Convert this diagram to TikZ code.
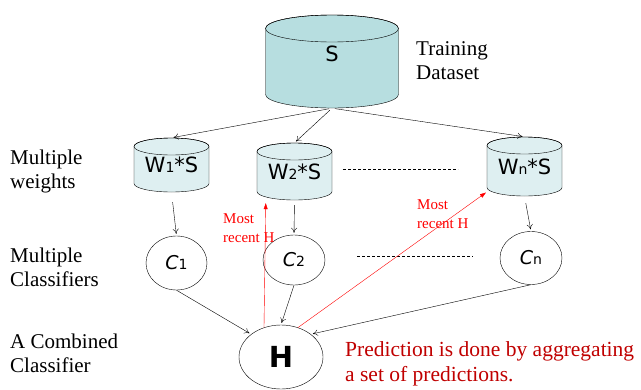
\documentclass[tikz,border=0pt]{standalone}
\usepackage{fontspec}
\setmainfont{Liberation Serif}
\newfontfamily\comicfont{DejaVu Sans}
\usetikzlibrary{shapes.geometric,arrows.meta}

\definecolor{setfill}{HTML}{B7DEE0}
\definecolor{wfill}{HTML}{DEEFF1}
\definecolor{notered}{HTML}{C00000}

\tikzset{
  dbase/.style={rectangle,inner sep=0pt,font=\comicfont\fontsize{21}{24}\selectfont},
  clf/.style={ellipse,draw,inner sep=0pt,font=\comicfont\fontsize{19}{22}\selectfont},
  sidetext/.style={anchor=west,align=left,inner sep=0pt,font=\fontsize{21}{24}\selectfont},
  flow/.style={-{To[length=5pt,width=6pt]},shorten <=3pt,shorten >=2pt},
  recent/.style={red,-{Triangle[length=6pt,width=4pt]}},
  recentlabel/.style={anchor=west,align=left,inner sep=0pt,text=red,
    font=\fontsize{15}{19}\selectfont},
  gap/.style={dash pattern=on 3pt off 2pt}
}
\newcommand{\lowsub}[1]{{\fontsize{14}{14}\selectfont #1}}
% name, x, y, width, height, y radius of the ends, fill, text
\newcommand{\datacyl}[8]{%
  \filldraw[fill=#7] (#2-#4/2,#3-#5/2+#6) -- (#2-#4/2,#3+#5/2-#6)
    arc[start angle=180,end angle=0,x radius=#4/2,y radius=#6]
    -- (#2+#4/2,#3-#5/2+#6)
    arc[start angle=0,end angle=-180,x radius=#4/2,y radius=#6] -- cycle;
  \draw (#2,#3-#5/2+#6) ellipse[x radius=#4/2,y radius=#6];
  \node[dbase,minimum width=#4pt,minimum height=#5pt] (#1) at (#2,#3) {#8};
}

\begin{document}
\begin{tikzpicture}[x=1pt,y=-1pt]
\useasboundingbox (0,0) rectangle (641,389);
% data sets
\datacyl{S}{332}{61.5}{133}{93}{13.5}{setfill}{\smash{S}}
\datacyl{W1}{171.5}{165}{75}{54}{8.5}{wfill}{\raisebox{-3pt}{W\lowsub{1}*S}}
\datacyl{W2}{294.5}{171.5}{75}{57}{8.5}{wfill}{W\lowsub{2}*S}
\datacyl{Wn}{524.5}{166.5}{75}{59}{8.5}{wfill}{\raisebox{-3pt}{W\lowsub{n}*S}}
% classifiers
\node[clf,minimum width=61pt,minimum height=54pt]
(C1) at (176.5,263) {\textit{C}\lowsub{1}};
\node[clf,minimum width=62pt,minimum height=50pt]
(C2) at (294,260) {\textit{C}\lowsub{2}};
\node[clf,minimum width=62pt,minimum height=53pt]
(Cn) at (531,258) {\textit{C}\lowsub{n}};
\node[clf,minimum width=84pt,minimum height=64pt,font=\comicfont\bfseries\fontsize{29}{30}\selectfont]
(H) at (281,357) {H};
% texts
\node[sidetext] (train) at (416,61) {Training\\Dataset};
\node[sidetext] (weights) at (10,171.5) {Multiple\\weights};
\node[sidetext] (classifiers) at (10,267.5) {Multiple\\Classifiers};
\node[sidetext] (combined) at (10,353) {A Combined\\Classifier};
\node[sidetext,text=notered,font=\fontsize{21.5}{25}\selectfont] (note) at (345,363.5)
	{Prediction is done by aggregating\\a set of predictions.};
\node[recentlabel] (recent2) at (223,228) {Most\\recent H};
\node[recentlabel] (recentn) at (417,214) {Most\\recent H};
% dots between the copies
\coordinate (wdots1) at (343,169);
\coordinate (wdots2) at (458,169);
\coordinate (cdots1) at (357,256);
\coordinate (cdots2) at (473,256);
\draw[gap] (wdots1) -- (wdots2);
\draw[gap] (cdots1) -- (cdots2);
% arrows
\draw[flow] (S.south) -- (W1.north);
\draw[flow] (S.south) -- (W2.north);
\draw[flow] (S.south) -- (Wn.north);
\draw[flow,shorten <=10pt] (W1.south) -- (C1.north);
\draw[flow,shorten <=5pt] (W2.south) -- (C2.north);
\draw[flow,shorten <=7pt] (Wn.south) -- (Cn.north);
\draw[flow,shorten <=0pt] (C1.south) -- (H.north west);
\draw[flow,shorten <=0pt] (C2.south) -- (H.north);
\draw[flow,shorten <=0pt] (Cn.south) -- (H.north east);
\draw[recent,shorten >=3pt] (H.120) -- (W2.225);
\draw[recent,shorten >=1pt] (H.60) -- (Wn.214);
\end{tikzpicture}
\end{document}
